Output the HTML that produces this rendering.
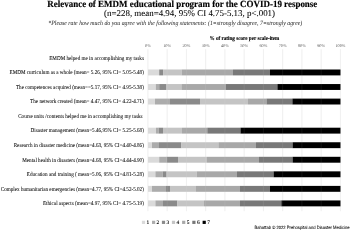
<!DOCTYPE html><html><head><meta charset="utf-8"><style>html,body{margin:0;padding:0;background:#fff;width:350px;height:230px;overflow:hidden}svg{display:block;will-change:transform}text{font-family:"Liberation Serif",serif}</style></head><body><svg width="350" height="230" viewBox="0 0 350 230" text-rendering="geometricPrecision"><g><rect width="350" height="230" fill="#fff"/><text x="47.3" y="7.0" font-size="8.98" font-weight="bold" fill="#000" stroke="#000" stroke-width="0.15" transform="translate(0 7) scale(1 1.06) translate(0 -7)">Relevance of EMDM educational program for the COVID-19 response</text><text x="104.1" y="16.4" font-size="8.92" fill="#000" stroke="#000" stroke-width="0.06">(n=228, mean=4.94, 95% CI 4.75-5.13, p&lt;.001)</text><text x="48.3" y="25.0" font-size="5.85" font-style="italic" fill="#1a1a1a" transform="translate(0 25) scale(1 1.1) translate(0 -25)">*Please rate how much do you agree with the following statements: (1=strongly disagree, 7=strongly agree)</text><text x="209.5" y="40.4" font-size="5.15" font-weight="bold" fill="#000" stroke="#000" stroke-width="0.1" transform="translate(0 40.4) scale(1 1.12) translate(0 -40.4)">% of rating score per scale-item</text><text x="147.90" y="46.9" font-size="4.3" text-anchor="middle" fill="#585858">0%</text><text x="167.15" y="46.9" font-size="4.3" text-anchor="middle" fill="#585858">10%</text><text x="186.40" y="46.9" font-size="4.3" text-anchor="middle" fill="#585858">20%</text><text x="205.65" y="46.9" font-size="4.3" text-anchor="middle" fill="#585858">30%</text><text x="224.90" y="46.9" font-size="4.3" text-anchor="middle" fill="#585858">40%</text><text x="244.15" y="46.9" font-size="4.3" text-anchor="middle" fill="#585858">50%</text><text x="263.40" y="46.9" font-size="4.3" text-anchor="middle" fill="#585858">60%</text><text x="282.65" y="46.9" font-size="4.3" text-anchor="middle" fill="#585858">70%</text><text x="301.90" y="46.9" font-size="4.3" text-anchor="middle" fill="#585858">80%</text><text x="321.15" y="46.9" font-size="4.3" text-anchor="middle" fill="#585858">90%</text><text x="340.40" y="46.9" font-size="4.3" text-anchor="middle" fill="#585858">100%</text><line x1="147.90" y1="49.2" x2="147.90" y2="211.2" stroke="#dcdcdc" stroke-width="0.5"/><line x1="167.15" y1="49.2" x2="167.15" y2="211.2" stroke="#dcdcdc" stroke-width="0.5"/><line x1="186.40" y1="49.2" x2="186.40" y2="211.2" stroke="#dcdcdc" stroke-width="0.5"/><line x1="205.65" y1="49.2" x2="205.65" y2="211.2" stroke="#dcdcdc" stroke-width="0.5"/><line x1="224.90" y1="49.2" x2="224.90" y2="211.2" stroke="#dcdcdc" stroke-width="0.5"/><line x1="244.15" y1="49.2" x2="244.15" y2="211.2" stroke="#dcdcdc" stroke-width="0.5"/><line x1="263.40" y1="49.2" x2="263.40" y2="211.2" stroke="#dcdcdc" stroke-width="0.5"/><line x1="282.65" y1="49.2" x2="282.65" y2="211.2" stroke="#dcdcdc" stroke-width="0.5"/><line x1="301.90" y1="49.2" x2="301.90" y2="211.2" stroke="#dcdcdc" stroke-width="0.5"/><line x1="321.15" y1="49.2" x2="321.15" y2="211.2" stroke="#dcdcdc" stroke-width="0.5"/><line x1="340.40" y1="49.2" x2="340.40" y2="211.2" stroke="#dcdcdc" stroke-width="0.5"/><rect x="148.00" y="69.50" width="11.20" height="5.9" fill="#dadada"/><rect x="159.20" y="69.50" width="0.00" height="5.9" fill="#acacac"/><rect x="159.20" y="69.50" width="3.90" height="5.9" fill="#8a8a8a"/><rect x="163.10" y="69.50" width="18.50" height="5.9" fill="#c4c4c4"/><rect x="181.60" y="69.50" width="51.40" height="5.9" fill="#a8a8a8"/><rect x="233.00" y="69.50" width="37.00" height="5.9" fill="#787878"/><rect x="270.00" y="69.50" width="70.50" height="5.9" fill="#000000"/><rect x="148.00" y="84.05" width="7.80" height="5.9" fill="#dadada"/><rect x="155.80" y="84.05" width="3.40" height="5.9" fill="#acacac"/><rect x="159.20" y="84.05" width="7.30" height="5.9" fill="#8a8a8a"/><rect x="166.50" y="84.05" width="14.90" height="5.9" fill="#c4c4c4"/><rect x="181.40" y="84.05" width="44.60" height="5.9" fill="#a8a8a8"/><rect x="226.00" y="84.05" width="51.40" height="5.9" fill="#787878"/><rect x="277.40" y="84.05" width="63.10" height="5.9" fill="#000000"/><rect x="148.00" y="98.60" width="7.00" height="5.9" fill="#dadada"/><rect x="155.00" y="98.60" width="15.00" height="5.9" fill="#acacac"/><rect x="170.00" y="98.60" width="30.00" height="5.9" fill="#8a8a8a"/><rect x="200.00" y="98.60" width="48.00" height="5.9" fill="#c4c4c4"/><rect x="248.00" y="98.60" width="18.50" height="5.9" fill="#a8a8a8"/><rect x="266.50" y="98.60" width="25.90" height="5.9" fill="#787878"/><rect x="292.40" y="98.60" width="48.10" height="5.9" fill="#000000"/><rect x="148.00" y="127.70" width="8.00" height="5.9" fill="#dadada"/><rect x="156.00" y="127.70" width="2.60" height="5.9" fill="#acacac"/><rect x="158.60" y="127.70" width="4.40" height="5.9" fill="#8a8a8a"/><rect x="163.00" y="127.70" width="19.00" height="5.9" fill="#c4c4c4"/><rect x="182.00" y="127.70" width="25.30" height="5.9" fill="#a8a8a8"/><rect x="207.30" y="127.70" width="33.20" height="5.9" fill="#787878"/><rect x="240.50" y="127.70" width="100.00" height="5.9" fill="#000000"/><rect x="148.00" y="142.25" width="4.00" height="5.9" fill="#dadada"/><rect x="152.00" y="142.25" width="7.00" height="5.9" fill="#acacac"/><rect x="159.00" y="142.25" width="22.40" height="5.9" fill="#8a8a8a"/><rect x="181.40" y="142.25" width="37.00" height="5.9" fill="#c4c4c4"/><rect x="218.40" y="142.25" width="37.60" height="5.9" fill="#a8a8a8"/><rect x="256.00" y="142.25" width="36.60" height="5.9" fill="#787878"/><rect x="292.60" y="142.25" width="47.90" height="5.9" fill="#000000"/><rect x="148.00" y="156.80" width="11.20" height="5.9" fill="#dadada"/><rect x="159.20" y="156.80" width="7.40" height="5.9" fill="#acacac"/><rect x="166.60" y="156.80" width="11.40" height="5.9" fill="#8a8a8a"/><rect x="178.00" y="156.80" width="29.00" height="5.9" fill="#c4c4c4"/><rect x="207.00" y="156.80" width="52.00" height="5.9" fill="#a8a8a8"/><rect x="259.00" y="156.80" width="33.60" height="5.9" fill="#787878"/><rect x="292.60" y="156.80" width="47.90" height="5.9" fill="#000000"/><rect x="148.00" y="171.35" width="7.40" height="5.9" fill="#dadada"/><rect x="155.40" y="171.35" width="7.20" height="5.9" fill="#acacac"/><rect x="162.60" y="171.35" width="4.00" height="5.9" fill="#8a8a8a"/><rect x="166.60" y="171.35" width="30.00" height="5.9" fill="#c4c4c4"/><rect x="196.60" y="171.35" width="40.40" height="5.9" fill="#a8a8a8"/><rect x="237.00" y="171.35" width="36.60" height="5.9" fill="#787878"/><rect x="273.60" y="171.35" width="66.90" height="5.9" fill="#000000"/><rect x="148.00" y="185.90" width="4.00" height="5.9" fill="#dadada"/><rect x="152.00" y="185.90" width="14.00" height="5.9" fill="#acacac"/><rect x="166.00" y="185.90" width="4.00" height="5.9" fill="#8a8a8a"/><rect x="170.00" y="185.90" width="26.00" height="5.9" fill="#c4c4c4"/><rect x="196.00" y="185.90" width="44.00" height="5.9" fill="#a8a8a8"/><rect x="240.00" y="185.90" width="30.00" height="5.9" fill="#787878"/><rect x="270.00" y="185.90" width="70.50" height="5.9" fill="#000000"/><rect x="148.00" y="200.45" width="7.40" height="5.9" fill="#dadada"/><rect x="155.40" y="200.45" width="7.60" height="5.9" fill="#acacac"/><rect x="163.00" y="200.45" width="14.40" height="5.9" fill="#8a8a8a"/><rect x="177.40" y="200.45" width="26.60" height="5.9" fill="#c4c4c4"/><rect x="204.00" y="200.45" width="36.00" height="5.9" fill="#a8a8a8"/><rect x="240.00" y="200.45" width="41.40" height="5.9" fill="#787878"/><rect x="281.40" y="200.45" width="59.10" height="5.9" fill="#000000"/><line x1="147.90" y1="49.2" x2="147.90" y2="211.2" stroke="#ffffff" stroke-opacity="0.15" stroke-width="0.5"/><line x1="167.15" y1="49.2" x2="167.15" y2="211.2" stroke="#ffffff" stroke-opacity="0.15" stroke-width="0.5"/><line x1="186.40" y1="49.2" x2="186.40" y2="211.2" stroke="#ffffff" stroke-opacity="0.15" stroke-width="0.5"/><line x1="205.65" y1="49.2" x2="205.65" y2="211.2" stroke="#ffffff" stroke-opacity="0.15" stroke-width="0.5"/><line x1="224.90" y1="49.2" x2="224.90" y2="211.2" stroke="#ffffff" stroke-opacity="0.15" stroke-width="0.5"/><line x1="244.15" y1="49.2" x2="244.15" y2="211.2" stroke="#ffffff" stroke-opacity="0.15" stroke-width="0.5"/><line x1="263.40" y1="49.2" x2="263.40" y2="211.2" stroke="#ffffff" stroke-opacity="0.15" stroke-width="0.5"/><line x1="282.65" y1="49.2" x2="282.65" y2="211.2" stroke="#ffffff" stroke-opacity="0.15" stroke-width="0.5"/><line x1="301.90" y1="49.2" x2="301.90" y2="211.2" stroke="#ffffff" stroke-opacity="0.15" stroke-width="0.5"/><line x1="321.15" y1="49.2" x2="321.15" y2="211.2" stroke="#ffffff" stroke-opacity="0.15" stroke-width="0.5"/><line x1="340.40" y1="49.2" x2="340.40" y2="211.2" stroke="#ffffff" stroke-opacity="0.15" stroke-width="0.5"/><g><text x="143.9" y="59.65" font-size="5.15" textLength="94.69" lengthAdjust="spacing" text-anchor="end" fill="#000" stroke="#000" stroke-width="0.04" transform="translate(0 59.65) scale(1 1.15) translate(0 -59.65)">EMDM helped me in accomplishing my tasks</text><text x="143.9" y="74.20" font-size="5.15" textLength="134.39" lengthAdjust="spacing" text-anchor="end" fill="#000" stroke="#000" stroke-width="0.04" transform="translate(0 74.20) scale(1 1.15) translate(0 -74.20)">EMDM curriculum as a whole (mean= 5.26, 95% CI= 5.05-5.48)</text><text x="143.9" y="88.75" font-size="5.15" textLength="127.98" lengthAdjust="spacing" text-anchor="end" fill="#000" stroke="#000" stroke-width="0.04" transform="translate(0 88.75) scale(1 1.15) translate(0 -88.75)">The competences acquired (mean==5.17, 95% CI= 4.95-5.38)</text><text x="143.9" y="103.30" font-size="5.15" textLength="113.78" lengthAdjust="spacing" text-anchor="end" fill="#000" stroke="#000" stroke-width="0.04" transform="translate(0 103.30) scale(1 1.15) translate(0 -103.30)">The network created (mean= 4.47, 95% CI= 4.22-4.71)</text><text x="142.6" y="117.85" font-size="5.15" textLength="124.44" lengthAdjust="spacing" text-anchor="end" fill="#000" stroke="#000" stroke-width="0.04" transform="translate(0 117.85) scale(1 1.15) translate(0 -117.85)">Course units /contents helped me in accomplishing my tasks</text><text x="143.9" y="132.40" font-size="5.15" textLength="113.36" lengthAdjust="spacing" text-anchor="end" fill="#000" stroke="#000" stroke-width="0.04" transform="translate(0 132.40) scale(1 1.15) translate(0 -132.40)">Disaster management (mean=5.46,95% CI= 5.25-5.68)</text><text x="143.9" y="146.95" font-size="5.15" textLength="130.23" lengthAdjust="spacing" text-anchor="end" fill="#000" stroke="#000" stroke-width="0.04" transform="translate(0 146.95) scale(1 1.15) translate(0 -146.95)">Research in disaster medicine (mean=4.63, 95% CI=4.40-4.86)</text><text x="143.9" y="161.50" font-size="5.15" textLength="121.66" lengthAdjust="spacing" text-anchor="end" fill="#000" stroke="#000" stroke-width="0.04" transform="translate(0 161.50) scale(1 1.15) translate(0 -161.50)">Mental health in disasters (mean=4.68, 95% CI=4.44-4.90)</text><text x="143.9" y="176.05" font-size="5.15" textLength="117.08" lengthAdjust="spacing" text-anchor="end" fill="#000" stroke="#000" stroke-width="0.04" transform="translate(0 176.05) scale(1 1.15) translate(0 -176.05)">Education and training ( mean=5.06, 95% CI=4.81-5.28)</text><text x="143.9" y="190.60" font-size="5.15" textLength="143.15" lengthAdjust="spacing" text-anchor="end" fill="#000" stroke="#000" stroke-width="0.04" transform="translate(0 190.60) scale(1 1.15) translate(0 -190.60)">Complex humanitarian emergencies (mean=4.77, 95% CI=4.52-5.02)</text><text x="143.9" y="205.15" font-size="5.15" textLength="100.92" lengthAdjust="spacing" text-anchor="end" fill="#000" stroke="#000" stroke-width="0.04" transform="translate(0 205.15) scale(1 1.15) translate(0 -205.15)">Ethical aspects (mean=4.97, 95% CI= 4.75-5.19)</text></g><rect x="141.90" y="220.75" width="3.2" height="3.2" fill="#dadada"/><text x="146.50" y="223.8" font-size="5.4" fill="#000" stroke="#000" stroke-width="0.1">1</text><rect x="152.00" y="220.75" width="3.2" height="3.2" fill="#acacac"/><text x="156.60" y="223.8" font-size="5.4" fill="#000" stroke="#000" stroke-width="0.1">2</text><rect x="161.90" y="220.75" width="3.2" height="3.2" fill="#8a8a8a"/><text x="166.50" y="223.8" font-size="5.4" fill="#000" stroke="#000" stroke-width="0.1">3</text><rect x="171.90" y="220.75" width="3.2" height="3.2" fill="#c4c4c4"/><text x="176.50" y="223.8" font-size="5.4" fill="#000" stroke="#000" stroke-width="0.1">4</text><rect x="182.10" y="220.75" width="3.2" height="3.2" fill="#a8a8a8"/><text x="186.70" y="223.8" font-size="5.4" fill="#000" stroke="#000" stroke-width="0.1">5</text><rect x="192.30" y="220.75" width="3.2" height="3.2" fill="#787878"/><text x="196.90" y="223.8" font-size="5.4" fill="#000" stroke="#000" stroke-width="0.1">6</text><rect x="202.60" y="220.75" width="3.2" height="3.2" fill="#000000"/><text x="207.20" y="223.8" font-size="5.4" fill="#000" stroke="#000" stroke-width="0.1">7</text><text x="349.6" y="229.0" font-size="4.15" text-anchor="end" fill="#000" stroke="#000" stroke-width="0.05" transform="translate(0 229) scale(1 1.1) translate(0 -229)" style="font-family:'Liberation Sans',sans-serif">Bahattab © 2022 Prehospital and Disaster Medicine</text></g></svg></body></html>
